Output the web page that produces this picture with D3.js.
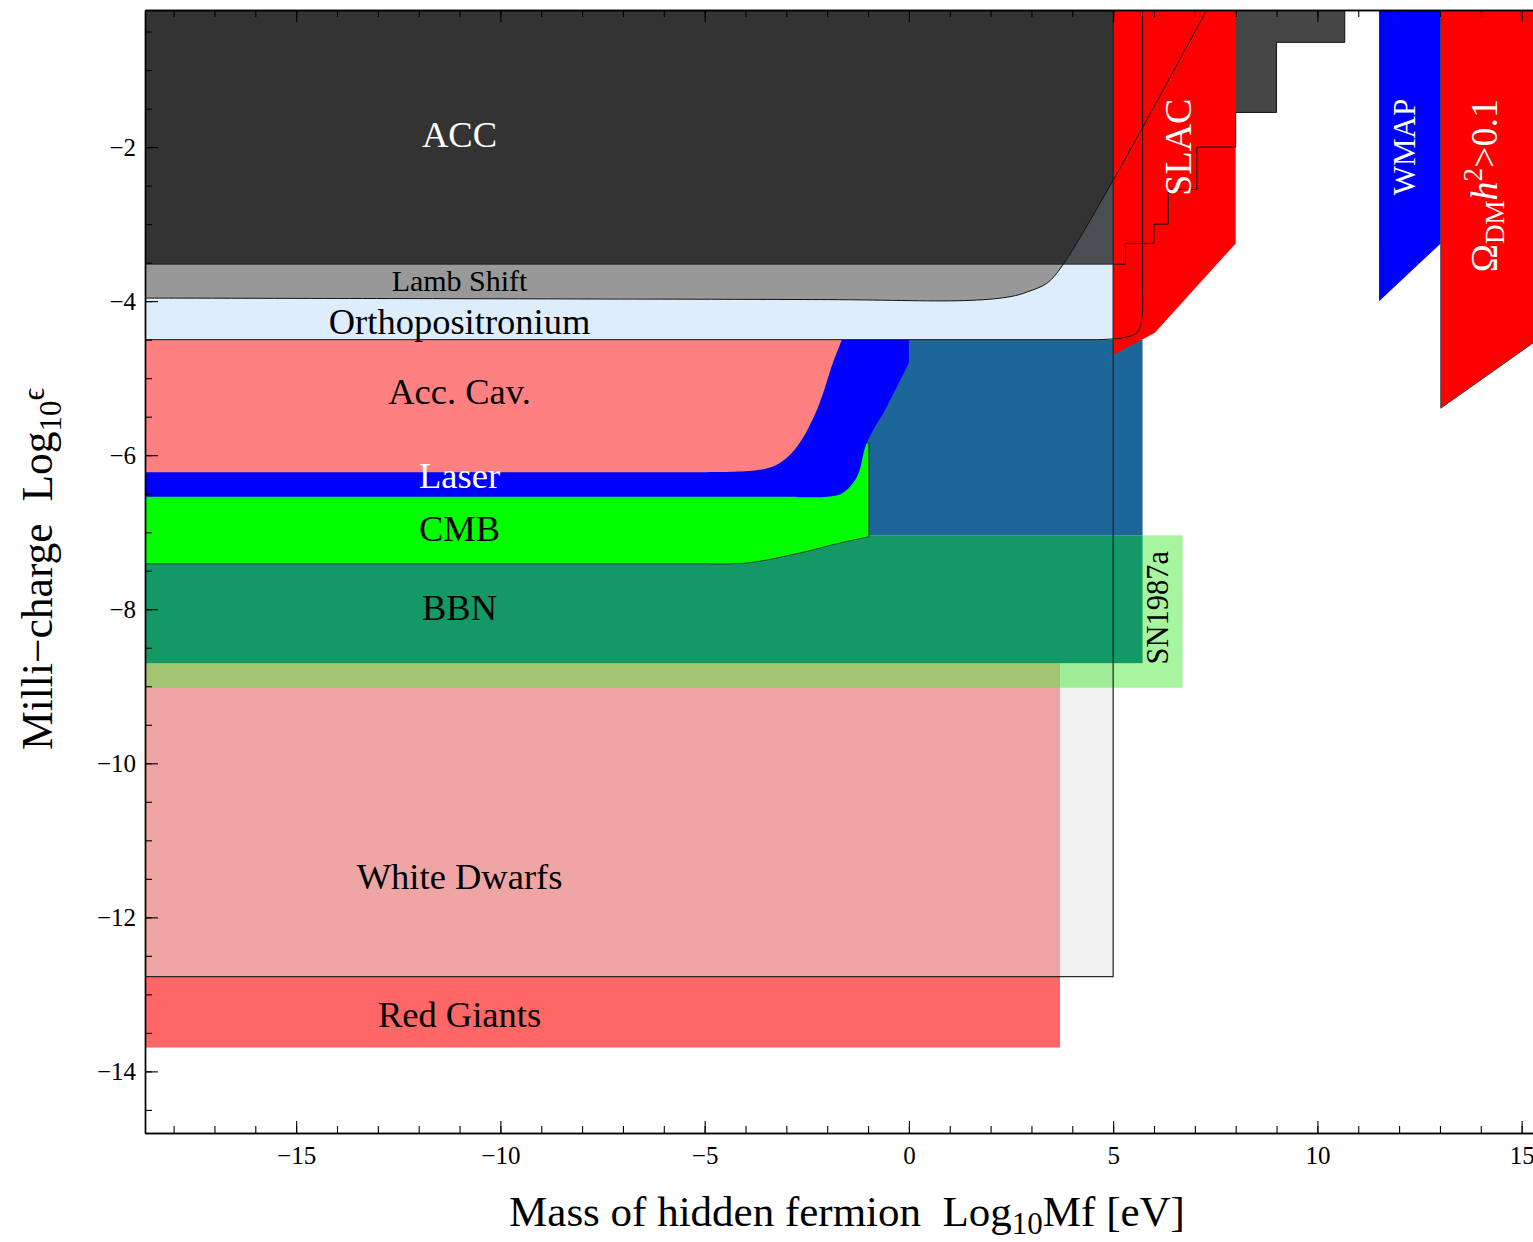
<!DOCTYPE html>
<html>
<head>
<meta charset="utf-8">
<script src="https://cdn.jsdelivr.net/npm/d3@7"></script>
<style>
  body { margin: 0; background: #fff; }
  svg { display: block; }
  text { font-family: "Liberation Serif", "Times New Roman", serif; }
</style>
</head>
<body>
<svg id="chart" width="1533" height="1242"></svg>
<script>
// ---------- data (x = log10 Mf [eV], y = log10 epsilon) ----------
const xDomain = [-18.7, 15.3];
const yDomain = [-14.8, -0.22];
const L = -18.7, T = -0.22;

const xMajorTicks = [-15, -10, -5, 0, 5, 10, 15];
const xMinorTicks = d3.range(-18, 16, 1);
const yMajorTicks = [-14, -12, -10, -8, -6, -4, -2];
const yMinorTicks = d3.range(-14.5, -0.4, 0.5);

// rectangles: [x0, x1, y0, y1]
const grayBoxRect      = [L, 5.0, -12.77, T];
const whiteDwarfsRect  = [L, 3.70, -12.77, -8.70];
const redGiantsRect    = [L, 3.70, -13.69, -12.77];
const sn1987aRect      = [L, 6.70, -9.02, -7.04];
const darkBlueRect     = [L, 5.72, -7.04, -4.50];
const bbnRect          = [L, 5.72, -8.70, -7.04];
const accRect          = [L, 5.0, -3.52, T];

// curved boundaries
const cmbBottom   = [[-0.98,-7.06],[-1.69,-7.14],[-2.67,-7.27],[-3.97,-7.40],[-5.0,-7.41]];
const cmbClose    = [[L,-7.41],[L,-5.84],[-0.98,-5.84]];
const laserEdge   = [[0,-4.80],[-0.54,-5.37],[-1.03,-5.84],[-1.27,-6.28],[-1.62,-6.49],[-2.0,-6.54],[-3.0,-6.54]];
const laserClose  = [[L,-6.54],[L,-4.50],[0,-4.50]];
const accCavEdge  = [[-1.64,-4.50],[-1.86,-4.80],[-2.25,-5.41],[-2.74,-5.89],[-3.16,-6.10],[-3.65,-6.19],[-5.12,-6.22]];
const accCavClose = [[L,-6.22],[L,-4.50]];
const orthoEdge   = [[4.6,-4.50],[5.3,-4.47],[5.6,-4.40],[5.71,-4.20],[5.72,-3.90]];
const orthoClose  = [[5.72,T],[L,T],[L,-4.50]];
const lambEdge    = [[L,-3.96],[-2.0,-3.98],[1.5,-3.99],[2.5,-3.94],[2.9,-3.88],[3.37,-3.77],[3.7,-3.58],[5.0,-2.43],[7.29,T]];
const lambClose   = [[L,T]];
const stairX      = [5.0, 5.3, 6.0, 6.35, 7.05, 8.0, 9.0, 10.67];
const stairY      = [-3.52, -3.25, -3.0, -2.55, -2.0, -1.55, -0.64, T];
const slacPoly    = [[5.0,T],[8.0,T],[8.0,-3.25],[6.02,-4.41],[5.0,-4.70]];
const wmapPoly    = [[11.51,T],[13.02,T],[13.02,-3.25],[11.51,-4.0]];
const omegaPoly   = [[13.02,T],[15.5,T],[15.5,-4.46],[13.02,-5.39]];

// ---------- scales ----------
const x = d3.scaleLinear().domain(xDomain).range([145, 1533.9]);
const y = d3.scaleLinear().domain(yDomain).range([1133, 10]);

const svg = d3.select("#chart");
svg.append("defs").append("clipPath").attr("id", "clip")
  .append("rect").attr("x", 145).attr("y", 10).attr("width", 1400).attr("height", 1123);
const g = svg.append("g").attr("clip-path", "url(#clip)");

const lin = d3.line().x(d => x(d[0])).y(d => y(d[1]));
const smooth = d3.line().x(d => x(d[0])).y(d => y(d[1])).curve(d3.curveCatmullRom.alpha(0.5));
const stepLine = d3.line().x(d => x(d[0])).y(d => y(d[1])).curve(d3.curveStepAfter);

function rect(r, fill, extra) {
  const e = g.append("rect")
    .attr("x", x(r[0])).attr("y", y(r[3]))
    .attr("width", x(r[1]) - x(r[0])).attr("height", y(r[2]) - y(r[3]))
    .attr("fill", fill);
  if (extra) extra(e);
  return e;
}
function curvedPath(edge, close) {
  let p = smooth(edge);
  close.forEach(c => { p += "L" + x(c[0]) + "," + y(c[1]); });
  return p + "Z";
}

// ---------- layers ----------
rect(grayBoxRect, "#f1f1f1");
rect(whiteDwarfsRect, "#f0a5a5");
rect(redGiantsRect, "#ff6666");
rect(sn1987aRect, "rgb(66,233,48)", e => e.attr("fill-opacity", 0.46));
rect(darkBlueRect, "#1c6699");
rect(bbnRect, "#129966");
g.append("path").attr("d", curvedPath(cmbBottom, cmbClose)).attr("fill", "#00ff00")
  .attr("stroke", "#222").attr("stroke-width", 0.8);
g.append("path").attr("d", curvedPath(laserEdge, laserClose)).attr("fill", "#0000ff");
g.append("path").attr("d", curvedPath(accCavEdge, accCavClose)).attr("fill", "#ff8080");
g.append("path").attr("d", curvedPath(orthoEdge, orthoClose)).attr("fill", "#ddedfc");
g.append("path").attr("d", curvedPath(lambEdge, lambClose)).attr("fill", "#999999");
rect(accRect, "#000", e => e.attr("fill-opacity", 0.667));

const stairPts = stairX.map((v, i) => [v, stairY[i]]);
g.append("path").attr("d", stepLine(stairPts) + "L" + x(5.0) + "," + y(T) + "Z").attr("fill", "#464646");
g.append("path").attr("d", lin(slacPoly) + "Z").attr("fill", "#ff0000");
g.append("path").attr("d", lin(wmapPoly) + "Z").attr("fill", "#0000ff");
g.append("path").attr("d", lin(omegaPoly) + "Z").attr("fill", "#ff0000")
  .attr("stroke", "#444").attr("stroke-width", 1);

// outlines
g.append("path").attr("d", stepLine(stairPts)).attr("fill", "none").attr("stroke", "#111").attr("stroke-width", 1);
g.append("path").attr("d", smooth(orthoEdge) + "L" + x(5.72) + "," + y(T)).attr("fill", "none").attr("stroke", "#111").attr("stroke-width", 1);
g.append("path").attr("d", lin([[L,-4.5],[4.6,-4.5]])).attr("fill", "none").attr("stroke", "#111").attr("stroke-width", 1);
g.append("path").attr("d", smooth(lambEdge)).attr("fill", "none").attr("stroke", "#111").attr("stroke-width", 1);
g.append("path").attr("d", lin([[L,-3.52],[5.0,-3.52]])).attr("fill", "none").attr("stroke", "#111").attr("stroke-width", 0.8);
rect(grayBoxRect, "none", e => e.attr("stroke", "#222").attr("stroke-width", 1.2));

// ---------- region labels ----------
const labelX = -11.0;
const labels = [
  {t: "ACC", y: -2.0, c: "#fff", s: 36.5},
  {t: "Lamb Shift", y: -3.87, c: "#000", s: 30},
  {t: "Orthopositronium", y: -4.43, c: "#000", s: 36.5},
  {t: "Acc. Cav.", y: -5.34, c: "#000", s: 36.5},
  {t: "Laser", y: -6.42, c: "#fff", s: 36.5},
  {t: "CMB", y: -7.12, c: "#000", s: 36.5},
  {t: "BBN", y: -8.14, c: "#000", s: 36.5},
  {t: "White Dwarfs", y: -11.63, c: "#000", s: 36.5},
  {t: "Red Giants", y: -13.42, c: "#000", s: 36.5}
];
svg.selectAll("text.lab").data(labels).join("text").attr("class", "lab")
  .attr("x", x(labelX)).attr("y", d => y(d.y))
  .attr("text-anchor", "middle").attr("fill", d => d.c).attr("font-size", d => d.s)
  .text(d => d.t);

function vlabel(px, py, size, color) {
  return svg.append("text").attr("transform", `translate(${px},${py}) rotate(-90)`)
    .attr("text-anchor", "middle").attr("fill", color).attr("font-size", size);
}
vlabel(x(6.9), y(-2.0), 38, "#fff").text("SLAC");
vlabel(x(12.4), y(-2.0), 31, "#fff").text("WMAP");
vlabel(x(6.35), y(-7.98), 30.5, "#000").text("SN1987a");
const om = vlabel(x(14.4), y(-2.5), 38, "#fff");
om.append("tspan").text("Ω");
om.append("tspan").attr("font-size", 27).attr("dy", 7).text("DM");
om.append("tspan").attr("font-style", "italic").attr("dy", -7).text("h");
om.append("tspan").attr("font-size", 27).attr("dy", -15).text("2");
om.append("tspan").attr("dy", 15).text(">0.1");

// ---------- axes ----------
const axG = svg.append("g");
const fmt = d3.format("");
axG.append("g").attr("transform", "translate(0,1133)")
  .call(d3.axisBottom(x).tickValues(xMinorTicks).tickSize(-7).tickSizeOuter(0).tickFormat(""));
axG.append("g").attr("transform", "translate(0,1133)").attr("class", "xmaj")
  .call(d3.axisBottom(x).tickValues(xMajorTicks).tickSize(-12).tickSizeOuter(0).tickPadding(13).tickFormat(fmt));
axG.append("g").attr("transform", "translate(0,10)")
  .call(d3.axisTop(x).tickValues(xMinorTicks).tickSize(-7).tickSizeOuter(0).tickFormat(""));
axG.append("g").attr("transform", "translate(0,10)")
  .call(d3.axisTop(x).tickValues(xMajorTicks).tickSize(-12).tickSizeOuter(0).tickFormat(""));
axG.append("g").attr("transform", "translate(145,0)")
  .call(d3.axisLeft(y).tickValues(yMinorTicks).tickSize(-7).tickSizeOuter(0).tickFormat(""));
axG.append("g").attr("transform", "translate(145,0)").attr("class", "ymaj")
  .call(d3.axisLeft(y).tickValues(yMajorTicks).tickSize(-13).tickSizeOuter(0).tickPadding(9).tickFormat(fmt));
axG.selectAll("text").attr("font-family", "Liberation Serif, serif").attr("font-size", 25).attr("fill", "#000");
axG.selectAll("line").attr("stroke", "#000").attr("stroke-width", 1.1);
axG.selectAll("path.domain").attr("stroke", "#000").attr("stroke-width", 1.4);

// axis titles
const xt = svg.append("text").attr("x", 847).attr("y", 1226).attr("text-anchor", "middle").attr("font-size", 43);
xt.append("tspan").text("Mass of hidden fermion\u00a0\u00a0Log");
xt.append("tspan").attr("font-size", 31).attr("dy", 8).text("10");
xt.append("tspan").attr("dy", -8).text("Mf [eV]");

const yt = svg.append("text").attr("transform", "translate(52,569) rotate(-90)").attr("text-anchor", "middle").attr("font-size", 43.5);
yt.append("tspan").text("Milli\u2212charge\u00a0\u00a0Log");
yt.append("tspan").attr("font-size", 31).attr("dy", 9).text("10");
yt.append("tspan").attr("font-size", 31).attr("dy", -17).text("\u03f5");
</script>
</body>
</html>
